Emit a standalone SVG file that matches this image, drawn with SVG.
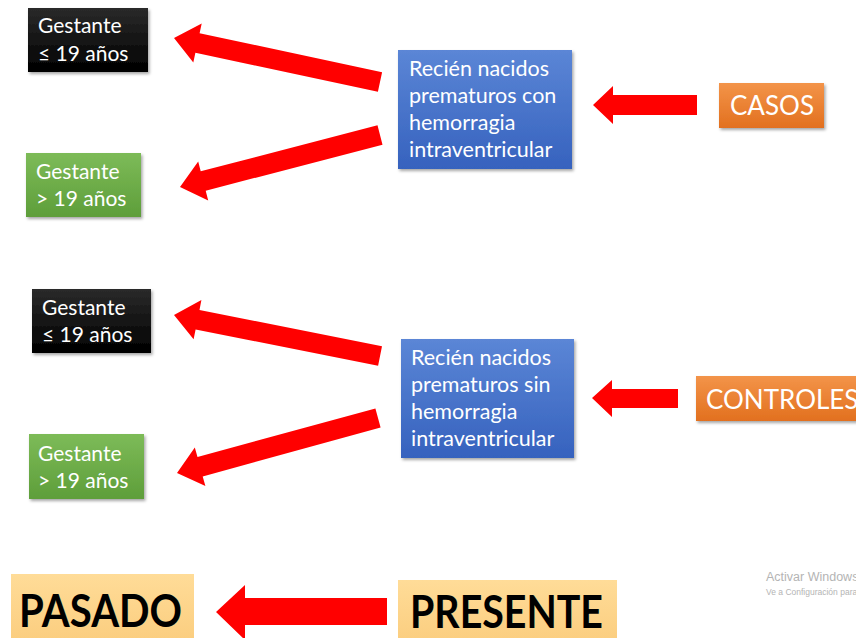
<svg xmlns="http://www.w3.org/2000/svg" width="856" height="638" viewBox="0 0 856 638">
<defs>
<linearGradient id="gBlack" x1="0" y1="0" x2="0" y2="1"><stop offset="0" stop-color="#2a2a2a"/><stop offset="1" stop-color="#000"/></linearGradient>
<linearGradient id="gGreen" x1="0" y1="0" x2="0" y2="1"><stop offset="0" stop-color="#7dbb58"/><stop offset="1" stop-color="#5e9e3a"/></linearGradient>
<linearGradient id="gBlue" x1="0" y1="0" x2="0" y2="1"><stop offset="0" stop-color="#5b86d6"/><stop offset="1" stop-color="#3662be"/></linearGradient>
<linearGradient id="gOrange" x1="0" y1="0" x2="0" y2="1"><stop offset="0" stop-color="#f39449"/><stop offset="1" stop-color="#e2701f"/></linearGradient>
<linearGradient id="gSand" x1="0" y1="0" x2="0" y2="1"><stop offset="0" stop-color="#ffdc98"/><stop offset="1" stop-color="#fbcd7e"/></linearGradient>
<filter id="sh" x="-10%" y="-10%" width="125%" height="130%"><feDropShadow dx="1.5" dy="2" stdDeviation="1.5" flood-color="#000" flood-opacity="0.35"/></filter>
</defs>
<style>
.t{font-family:Lato,"Open Sans","Liberation Sans",sans-serif;fill:#fff;font-size:21px}
.tb{font-family:Lato,"Open Sans","Liberation Sans",sans-serif;fill:#fff;font-size:21.5px}
.big{font-family:Lato,"Open Sans","Liberation Sans",sans-serif;fill:#fff;font-size:26px}
.bold{font-family:Lato,"Open Sans","Liberation Sans",sans-serif;fill:#000;font-weight:700;font-size:46px}
.arrow{fill:#ff0000}
.wm{font-family:"Liberation Sans",Arial,sans-serif;fill:#b4b4b4}
</style>
<rect width="856" height="638" fill="#fff"/>

<g id="connectors">
<polygon class="arrow" points="382.1,72.2 199.6,33.2 201.7,23.4 174,38 193.3,62.6 195.4,52.8 377.9,91.8"/>
<polygon class="arrow" points="377.5,125.3 200.7,171.3 198.2,161.6 180,187 208.2,200.4 205.7,190.7 382.5,144.7"/>
<polygon class="arrow" points="697,95 613,95 613,86 593,105 613,124 613,115 697,115"/>
<polygon class="arrow" points="382.0,346.2 199.5,309.9 201.4,300.1 174,315 193.6,339.3 195.6,329.5 378.1,365.8"/>
<polygon class="arrow" points="375.4,408.4 197.5,457.0 194.8,447.4 177,473 205.4,486.0 202.7,476.4 380.6,427.6"/>
<polygon class="arrow" points="678,389 612,389 612,380 592,398 612,417 612,408 678,408"/>
<polygon class="arrow" points="387,598 245,598 245,585 216,612 245,640 245,625 387,625"/>
</g>

<g id="gestante-le19-a">
<rect x="28" y="8" width="120" height="64" fill="url(#gBlack)" filter="url(#sh)"/>
<text class="t" x="38" y="33">Gestante</text>
<text class="t" x="38" y="61">≤ 19 años</text>
</g>
<g id="gestante-gt19-a">
<rect x="26" y="153" width="115" height="64" fill="url(#gGreen)" filter="url(#sh)"/>
<text class="t" x="36" y="179">Gestante</text>
<text class="t" x="36" y="206">&gt; 19 años</text>
</g>
<g id="rn-con">
<rect x="398" y="50" width="174" height="119" fill="url(#gBlue)" filter="url(#sh)"/>
<text class="tb" x="409" y="76">Recién nacidos</text>
<text class="tb" x="409" y="103">prematuros con</text>
<text class="tb" x="409" y="130">hemorragia</text>
<text class="tb" x="409" y="157">intraventricular</text>
</g>
<g id="casos">
<rect x="719" y="83" width="105" height="45" fill="url(#gOrange)" filter="url(#sh)"/>
<text class="big" x="730" y="115">CASOS</text>
</g>

<g id="gestante-le19-b">
<rect x="32" y="289" width="119" height="64" fill="url(#gBlack)" filter="url(#sh)"/>
<text class="t" x="42" y="315">Gestante</text>
<text class="t" x="42" y="342">≤ 19 años</text>
</g>
<g id="gestante-gt19-b">
<rect x="29" y="434" width="115" height="65" fill="url(#gGreen)" filter="url(#sh)"/>
<text class="t" x="38" y="461">Gestante</text>
<text class="t" x="38" y="488">&gt; 19 años</text>
</g>
<g id="rn-sin">
<rect x="401" y="339" width="173" height="119" fill="url(#gBlue)" filter="url(#sh)"/>
<text class="tb" x="411" y="365">Recién nacidos</text>
<text class="tb" x="411" y="392">prematuros sin</text>
<text class="tb" x="411" y="419">hemorragia</text>
<text class="tb" x="411" y="446">intraventricular</text>
</g>
<g id="controles">
<rect x="696" y="376" width="170" height="45" fill="url(#gOrange)" filter="url(#sh)"/>
<text class="big" x="706" y="409">CONTROLES</text>
</g>

<g id="pasado">
<rect x="11" y="574" width="183" height="70" fill="url(#gSand)"/>
<text class="bold" x="19" y="627" textLength="163" lengthAdjust="spacingAndGlyphs">PASADO</text>
</g>
<g id="presente">
<rect x="398" y="580" width="219" height="64" fill="url(#gSand)"/>
<text class="bold" x="410" y="628" textLength="193" lengthAdjust="spacingAndGlyphs">PRESENTE</text>
</g>

<text class="wm" x="766" y="581" font-size="12.5">Activar Windows</text>
<text class="wm" x="766" y="595" font-size="8.5">Ve a Configuración para activar Windows.</text>
</svg>
